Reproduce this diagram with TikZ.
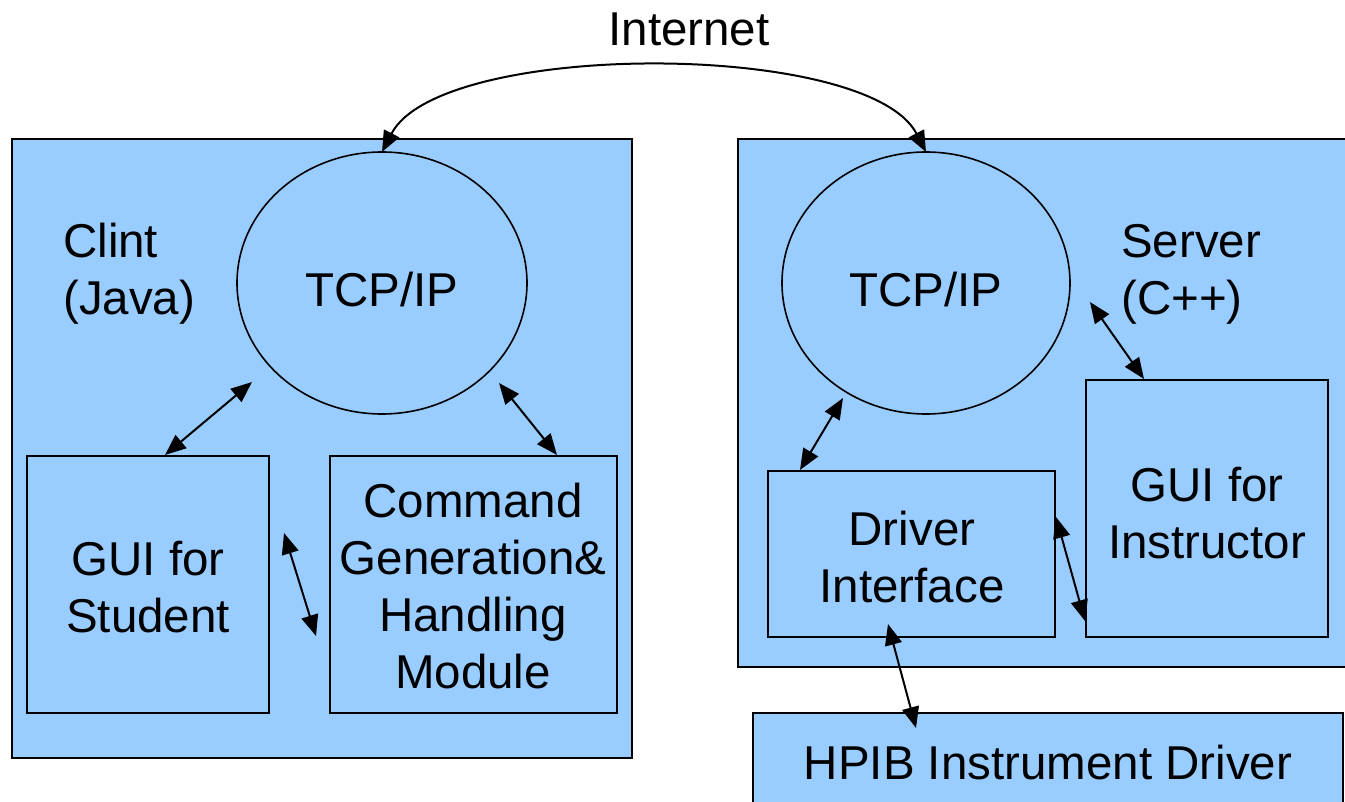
\documentclass[tikz,border=0pt]{standalone}
\usepackage{fontspec}
\setmainfont{Liberation Sans}
\usetikzlibrary{arrows.meta,shapes.geometric}
\definecolor{boxblue}{HTML}{99CCFF}
\tikzset{
  big/.style={font=\fontsize{47.5}{57}\selectfont},
  panel/.style={draw=black, fill=boxblue, line width=1.8pt, rectangle, inner sep=0pt},
  tcp/.style={draw=black, fill=boxblue, line width=1.6pt, ellipse, inner sep=0pt},
  module/.style={draw=black, fill=boxblue, line width=1.8pt, rectangle, inner sep=0pt},
  txt/.style={big, align=center, inner sep=0pt},
  lbl/.style={big, align=left, anchor=west, inner sep=0pt},
  link/.style={line width=2pt, {Triangle[length=21pt,width=17pt]}-{Triangle[length=21pt,width=17pt]}},
}
\begin{document}
\begin{tikzpicture}[x=1pt,y=-1pt]
\clip (0,0) rectangle (1345,802);
\fill[white] (0,0) rectangle (1345,802);
% panels
\node[panel, minimum width=620pt, minimum height=619pt] (client) at (322,448.5) {};
\node[panel, minimum width=610pt, minimum height=528pt] (server) at (1043,403) {};
% TCP/IP ellipses
\node[tcp, minimum width=290pt, minimum height=262pt] (tcpL) at (382,283) {};
\node[tcp, minimum width=288pt, minimum height=262pt] (tcpR) at (926,283) {};
\node[txt] (tcpLt) at (382,290) {TCP/IP};
\node[txt] (tcpRt) at (926,290) {TCP/IP};
% labels
\node[lbl] (clint) at (63,274) {Clint\\(Java)};
\node[lbl] (srv) at (1121,274) {Server\\(C++)};
\node[txt] (inet) at (689,29) {Internet};
% modules
\node[module, minimum width=242pt, minimum height=257pt] (gs) at (148,584.5) {};
\node[module, minimum width=287pt, minimum height=257pt] (cmd) at (473.5,584.5) {};
\node[module, minimum width=287pt, minimum height=166pt] (drv) at (911.5,554) {};
\node[module, minimum width=242pt, minimum height=257pt] (gi) at (1207,508.5) {};
\node[module, minimum width=590pt, minimum height=140pt] (hpib) at (1048,783) {};
\node[txt] (gst) at (148,587) {GUI for\\Student};
\node[txt] (cmdt) at (473,586) {Command\\Generation\&\\Handling\\Module};
\node[txt] (drvt) at (912,557) {Driver\\Interface};
\node[txt] (git) at (1207,513) {GUI for\\Instructor};
\node[txt] (hpibt) at (1048,763) {HPIB Instrument Driver};
% connector end points
\coordinate (a1) at (165,455);
\coordinate (a2) at (252,382);
\coordinate (b1) at (499,383);
\coordinate (b2) at (557,455);
\coordinate (c1) at (284,533);
\coordinate (c2) at (316,636);
\coordinate (d1) at (843,398);
\coordinate (d2) at (800,470);
\coordinate (e1) at (1090,302);
\coordinate (e2) at (1144,379);
\coordinate (f1) at (1056,517);
\coordinate (f2) at (1085,621);
\coordinate (g1) at (888,624);
\coordinate (g2) at (916,728);
\coordinate (i1) at (382,152);
\coordinate (i2) at (926,152);
% connectors
\draw[link] (a1) -- (a2);
\draw[link] (b1) -- (b2);
\draw[link] (c1) -- (c2);
\draw[link] (d1) -- (d2);
\draw[link] (e1) -- (e2);
\draw[link] (f1) -- (f2);
\draw[link] (g1) -- (g2);
\draw[link] (i1) .. controls (440,40) and (868,40) .. (i2);
\end{tikzpicture}
\end{document}
